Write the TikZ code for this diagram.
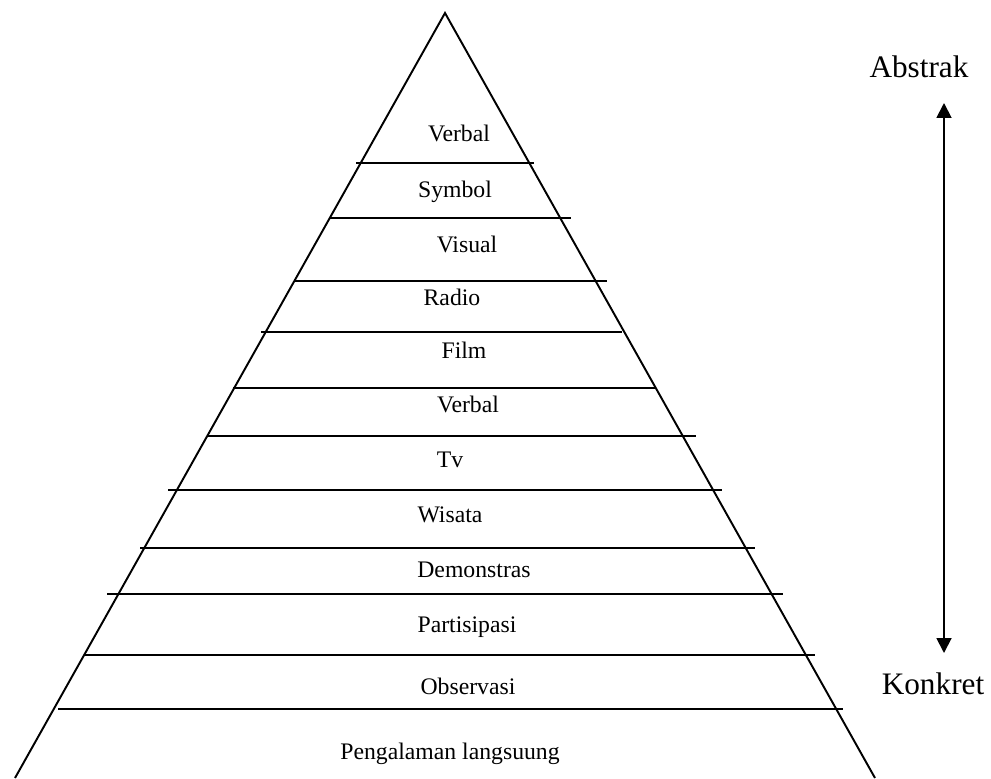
\documentclass[tikz,border=0pt]{standalone}
\usepackage{fontspec}
\setmainfont{Liberation Serif}
\usepackage{tikz}
\usetikzlibrary{arrows.meta}

\begin{document}
\begin{tikzpicture}
[x=0.02cm,y=-0.02cm,line width=1.1pt]
\tikzset{
	layer/.style = {anchor=base, inner sep=0, font=\fontsize{13.5}{16}\selectfont},
	pole/.style = {anchor=base, inner sep=0, font=\fontsize{17.8}{21}\selectfont},
	tip/.style = {{Triangle[length=8.5pt,width=8.5pt]}-{Triangle[length=8.5pt,width=8.5pt]}}
}
\useasboundingbox (0,0) rectangle (991,778);

% pyramid sides
\coordinate (apex) at (445,13);
\coordinate (baseL) at (15,778);
\coordinate (baseR) at (875,778);
\draw (baseL) -- (apex) -- (baseR);

% dividing lines, top to bottom
\draw (356,163) -- (534,163);
\draw (330,218) -- (571,218);
\draw (295,281) -- (607,281);
\draw (261,332) -- (622,332);
\draw (233,388) -- (656,388);
\draw (207,436) -- (696,436);
\draw (168,490) -- (722,490);
\draw (140,548) -- (755,548);
\draw (107,594) -- (783,594);
\draw (85,655) -- (815,655);
\draw (58,709) -- (843,709);

% layer names
\node (verbal1) [layer] at (459,141) {Verbal};
\node (symbol) [layer] at (455,197) {Symbol};
\node (visual) [layer] at (467,252) {Visual};
\node (radio) [layer] at (452,305) {Radio};
\node (film) [layer] at (464,358) {Film};
\node (verbal2) [layer] at (468,412) {Verbal};
\node (tv) [layer] at (450,467) {Tv};
\node (wisata) [layer] at (450,522) {Wisata};
\node (demo) [layer] at (474,577) {Demonstras};
\node (partisipasi) [layer] at (467,632) {Partisipasi};
\node (observasi) [layer] at (468,694) {Observasi};
\node (langsung) [layer] at (450,759) {Pengalaman langsuung};

% scale on the right
\node (abstrak) [pole] at (919,77) {Abstrak};
\node (konkret) [pole] at (933,694) {Konkret};
\coordinate (hi) at (944,103);
\coordinate (lo) at (944,653);
\draw [tip] (lo) -- (hi);
\end{tikzpicture}
\end{document}
